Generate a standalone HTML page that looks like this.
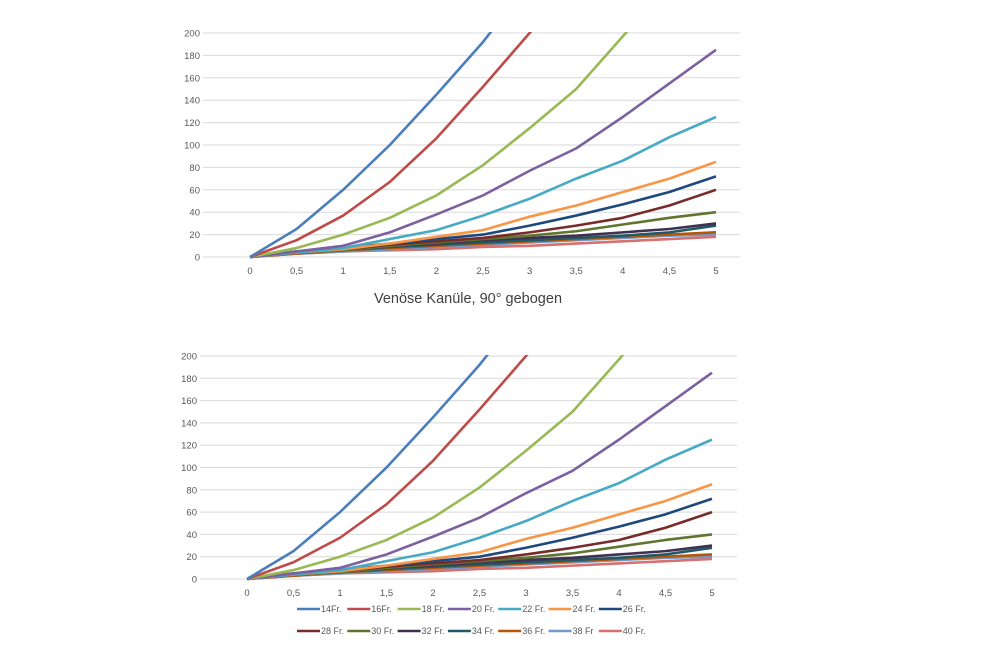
<!DOCTYPE html>
<html><head><meta charset="utf-8"><style>
body{margin:0;background:#fff;}
svg text{font-family:"Liberation Sans",sans-serif;fill:#595959;}
</style></head><body>
<svg id="s" width="1000" height="650">
<text x="468" y="303" font-size="14.5" text-anchor="middle" style="fill:#404040">Venöse Kanüle, 90° gebogen</text>
</svg>
<script>
const xCats=[0,0.5,1,1.5,2,2.5,3,3.5,4,4.5,5];
const xLabels=["0","0,5","1","1,5","2","2,5","3","3,5","4","4,5","5"];
const yTicks=[0,20,40,60,80,100,120,140,160,180,200];
const names=["14Fr.","16Fr.","18 Fr.","20 Fr.","22 Fr.","24 Fr.","26 Fr.","28 Fr.","30 Fr.","32 Fr.","34 Fr.","36 Fr.","38 Fr","40 Fr."];
const s14=[0,25,60,100,145,192,245,300,350,400,450];
const s16=[0,15,37,67,106,152,200,250,300,350,400];
const s18=[0,8,20,35,55,82,115,150,197,245,295];
const s20=[0,5,10,22,38,55,77,97,125,155,185];
const s22=[0,4,8,16,24,37,52,70,86,107,125];
const s24=[0,4,7,12,18,24,36,46,58,70,85];
const s26=[0,5,8,12,16,20,28,37,47,58,72];
const s28=[0,4,7,11,14,17,22,28,35,46,60];
const s30=[0,4,6,10,13,16,19,23,29,35,40];
const s32=[0,5,7,10,12,15,17,19,22,25,30];
const s34=[0,4,6,9,11,13,15,17,19,22,28];
const s36=[0,3,6,8,10,12,14,16,18,20,22];
const s38=[0,3,5,7,9,11,13,15,17,19,20];
const s40=[0,3,5,6,7,9,10,12,14,16,18];
const series=[s14,s16,s18,s20,s22,s24,s26,s28,s30,s32,s34,s36,s38,s40];
const colors=["#4a7ebb","#be4b48","#98b954","#7d60a0","#46aac4","#f79646","#1f497d","#772c2a","#5f7530","#403152","#215968","#b65708","#729aca","#d7706e"];
const svg=document.getElementById('s');
const NS="http://www.w3.org/2000/svg";
function mk(t,a){const e=document.createElementNS(NS,t);for(const k in a)e.setAttribute(k,a[k]);svg.appendChild(e);return e;}
function chart(id,x0,x1,y0,y1,gl,gr){
  const X=v=>x0+(v-0)/5*(x1-x0);
  const Y=v=>y0-(v/200)*(y0-y1);
  const cp=mk('clipPath',{id:'c'+id});
  const r=document.createElementNS(NS,'rect');r.setAttribute('x',gl);r.setAttribute('y',y1-1);r.setAttribute('width',gr-gl);r.setAttribute('height',y0-y1+3);cp.appendChild(r);
  yTicks.forEach(t=>{
    const l=mk('line',{x1:gl,x2:gr,y1:Y(t),y2:Y(t),stroke:'#d9d9d9','stroke-width':1});
    
    
    const tx=mk('text',{x:gl-3,y:Y(t)+3.5,'font-size':9.5,'text-anchor':'end'});
    tx.textContent=t;
    
    
  });
  xCats.forEach((c,i)=>{
    const tx=mk('text',{x:X(c),y:y0+17,'font-size':9.5,'text-anchor':'middle'});
    tx.textContent=xLabels[i];
    
    
  });
  series.slice().reverse().forEach((s,ri)=>{
    const i=series.length-1-ri;
    const p=mk('polyline',{points:s.map((v,j)=>X(xCats[j])+','+Y(v)).join(' '),fill:'none',stroke:colors[i],'stroke-width':2.6,'stroke-linejoin':'round','clip-path':'url(#c'+id+')'});
    
    
  });
}
chart('a',250,716,257,33,203,740);
chart('b',247,712,579,356,200,737);
names.forEach((n,i)=>{
  const row=Math.floor(i/7),col=i%7;
  const x=297+col*50.3,y=609+row*22;
  const l=mk('line',{x1:x,x2:x+23,y1:y,y2:y,stroke:colors[i],'stroke-width':2.6});
  
  
  const t=mk('text',{x:x+24,y:y+3,'font-size':9});
  t.textContent=n;
  
  
});
</script>
</body></html>
